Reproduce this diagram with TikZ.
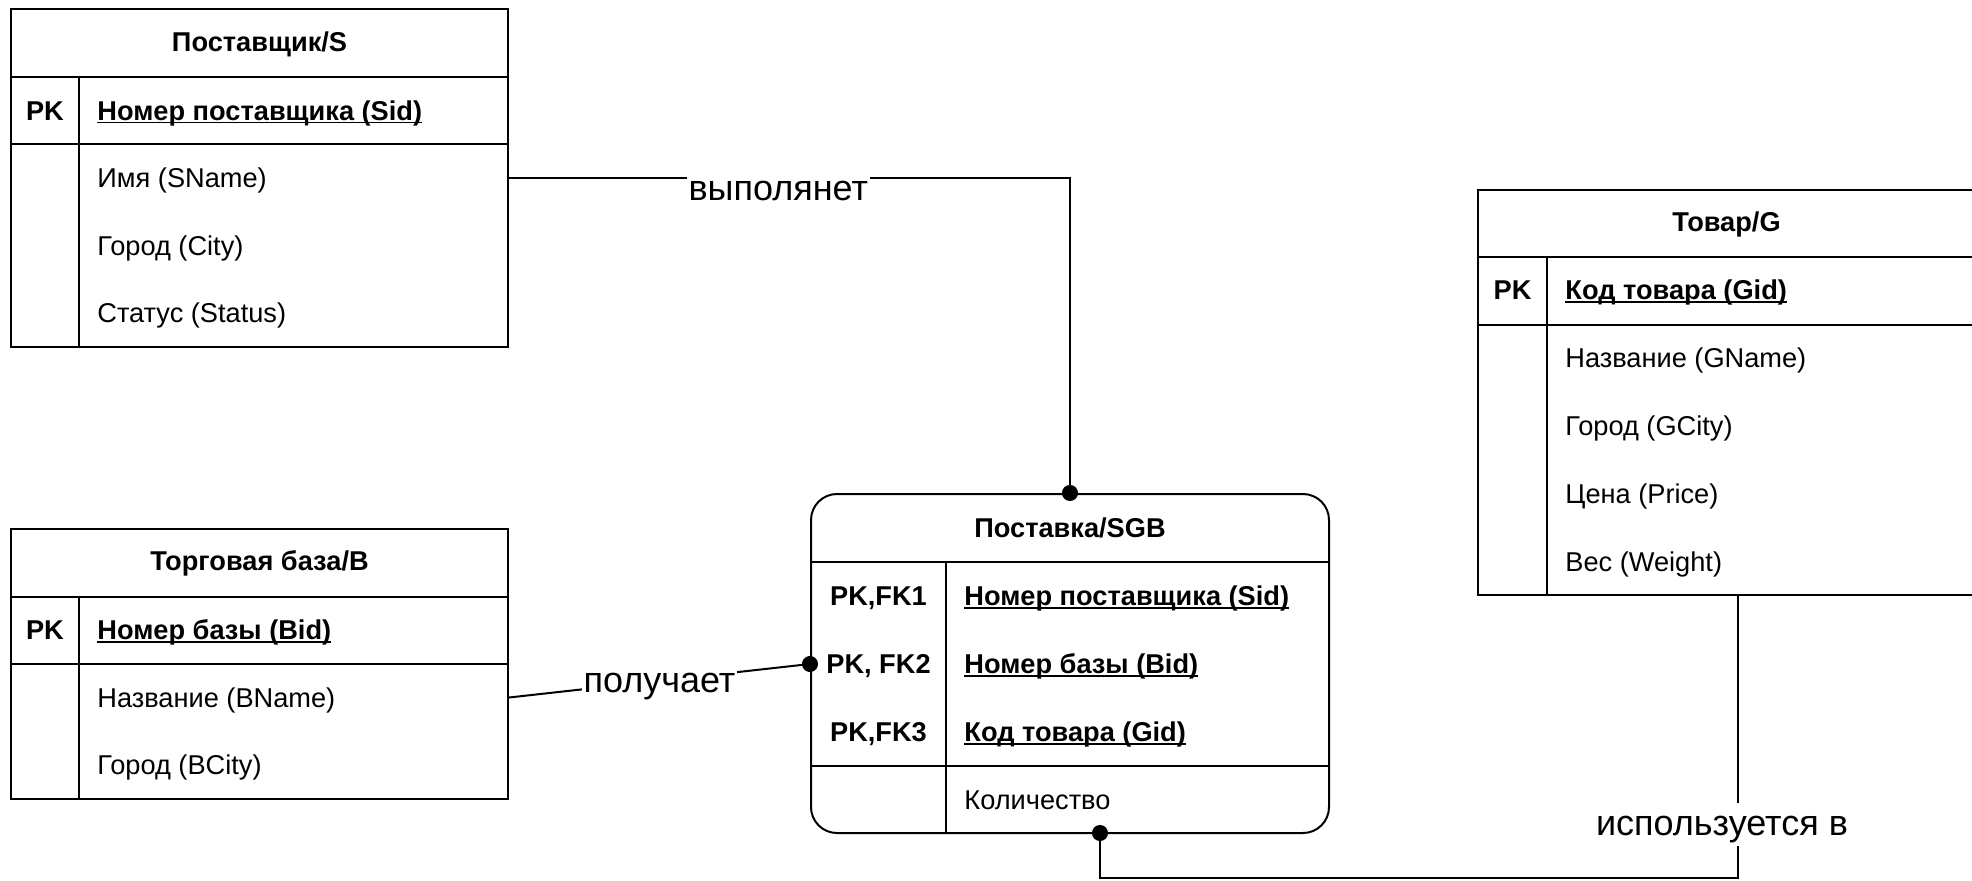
\documentclass[tikz,border=0pt]{standalone}
\usepackage{fontspec}
\setmainfont{Liberation Sans}
\usepackage{tikz}
\usetikzlibrary{positioning, arrows.meta, fit}
\newcommand{\keyname}[1]{\setbox0\hbox{#1}\rlap{\rule[-1.6pt]{\wd0}{0.9pt}}\box0}

\begin{document}
\begin{tikzpicture}[
    x=0.5pt, y=-0.5pt,
    tbl/.style={draw, line width=1pt, inner sep=0pt},
    divider/.style={line width=1pt},
    hdr/.style={font=\fontsize{13.6}{16}\selectfont\bfseries, inner sep=0pt,
                text height=9.7pt, text depth=0pt},
    attr/.style={font=\fontsize{13.6}{16}\selectfont, anchor=west, inner sep=0pt,
                 text height=9.7pt, text depth=0pt},
    pkattr/.style={attr, font=\fontsize{13.6}{16}\selectfont\bfseries},
    rlabel/.style={font=\fontsize{18}{21}\selectfont, fill=white, inner sep=1pt,
                   text height=15pt, text depth=4.5pt, anchor=base},
    rel/.style={line width=1pt},
    dotend/.style={-{Circle[length=8pt]}, shorten >=-4pt}
]
\useasboundingbox (0,0) rectangle (1972,880);

% ---- Supplier S ----
\node[tbl, fit={(11,9) (508,347)}] (S) {};
\draw[divider] (11,77) -- (508,77);
\draw[divider] (11,144) -- (508,144);
\draw[divider] (79,77) -- (79,347);
\node[hdr] (sHead) at (259.5,42) {Поставщик/S};
\node[hdr] (sPK) at (45,110.5) {PK};
\node[pkattr] (sKey) at (97,110.5) {\keyname{Номер поставщика (Sid)}};
\node[attr] (sName) at (97,178) {Имя (SName)};
\node[attr] (sCity) at (97,245.5) {Город (City)};
\node[attr] (sStatus) at (97,313) {Статус (Status)};

% ---- Trade base B ----
\node[tbl, fit={(11,529) (508,799)}] (B) {};
\draw[divider] (11,597) -- (508,597);
\draw[divider] (11,664) -- (508,664);
\draw[divider] (79,597) -- (79,799);
\node[hdr] (bHead) at (259.5,561) {Торговая база/B};
\node[hdr] (bPK) at (45,630) {PK};
\node[pkattr] (bKey) at (97,630) {\keyname{Номер базы (Bid)}};
\node[attr] (bName) at (97,697.5) {Название (BName)};
\node[attr] (bCity) at (97,765) {Город (BCity)};

% ---- Supply SGB ----
\node[tbl, rounded corners=13pt, fit={(811,494) (1329,833)}] (SGB) {};
\draw[divider] (811,562) -- (1329,562);
\draw[divider] (811,766) -- (1329,766);
\draw[divider] (946,562) -- (946,833);
\node[hdr] (sgbHead) at (1070,528) {Поставка/SGB};
\node[hdr] (sgbK1) at (878.5,596) {PK,FK1};
\node[hdr] (sgbK2) at (878.5,664) {PK, FK2};
\node[hdr] (sgbK3) at (878.5,732) {PK,FK3};
\node[pkattr] (sgbSid) at (964,596) {\keyname{Номер поставщика (Sid)}};
\node[pkattr] (sgbBid) at (964,664) {\keyname{Номер базы (Bid)}};
\node[pkattr] (sgbGid) at (964,732) {\keyname{Код товара (Gid)}};
\node[attr] (sgbQty) at (964,799.5) {Количество};

% ---- Goods G ----
\node[tbl, fit={(1478,190) (1975,595)}] (G) {};
\draw[divider] (1478,257) -- (1975,257);
\draw[divider] (1478,325) -- (1975,325);
\draw[divider] (1547,257) -- (1547,595);
\node[hdr] (gHead) at (1726.5,222) {Товар/G};
\node[hdr] (gPK) at (1512.5,290) {PK};
\node[pkattr] (gKey) at (1565,290) {\keyname{Код товара (Gid)}};
\node[attr] (gName) at (1565,358) {Название (GName)};
\node[attr] (gCity) at (1565,426) {Город (GCity)};
\node[attr] (gPrice) at (1565,494) {Цена (Price)};
\node[attr] (gWeight) at (1565,562) {Вес (Weight)};

% ---- Relations ----
\coordinate (gFoot) at (1738,595);
\coordinate (sgbFoot) at (1100,833);
\draw[rel, dotend] (S.east |- sName) -| node[rlabel, pos=0.24, yshift=-11pt] (lSupplies) {выполянет} (SGB.north);
\draw[rel, dotend] (B.east |- bName) -- node[rlabel, pos=0.5, yshift=-6pt] (lReceives) {получает} (SGB.west |- sgbK2);
\draw[rel, dotend] (gFoot) -- node[rlabel, pos=0.81, xshift=-8pt, yshift=-5.5pt] (lUsed) {используется в} ++(0,283) -| (sgbFoot);

\end{tikzpicture}
\end{document}
